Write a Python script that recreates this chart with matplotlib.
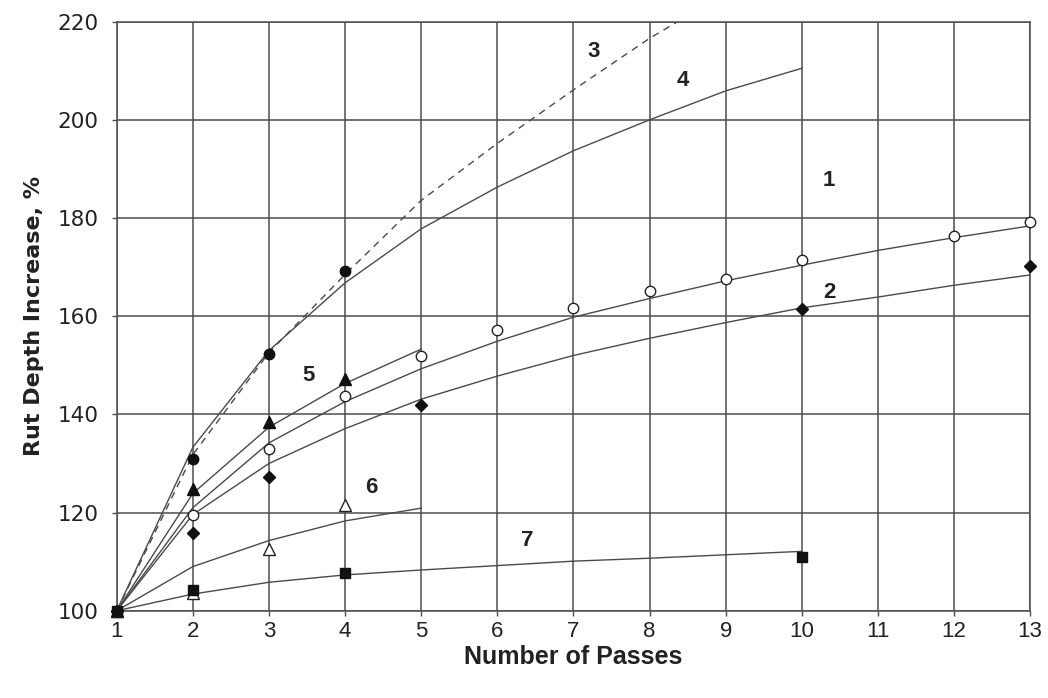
"""Rut depth increase vs number of passes (curves 1-7 with measured points)."""

import matplotlib
matplotlib.use("Agg")
import matplotlib.pyplot as plt

# ---------------------------------------------------------------------------
# data
# ---------------------------------------------------------------------------

# fitted curves (values at integer pass counts)
x1 = [1, 2, 3, 4, 5, 6, 7, 8, 9, 10, 11, 12, 13]
y1 = [100, 121.0, 134.2, 142.6, 149.3, 154.9, 159.8, 163.6, 167.2, 170.4,
      173.4, 176.0, 178.4]
x2 = [1, 2, 3, 4, 5, 6, 7, 8, 9, 10, 11, 12, 13]
y2 = [100, 119.6, 130.0, 137.1, 143.1, 147.8, 152.0, 155.5, 158.7, 161.7,
      163.9, 166.3, 168.4]
x3 = [1, 2, 3, 4, 5, 6, 7, 8, 9]
y3 = [100, 131.8, 152.6, 168.5, 183.6, 195.2, 206.1, 216.6, 225.8]
x4 = [1, 2, 3, 4, 5, 6, 7, 8, 9, 10]
y4 = [100, 133.3, 153.0, 166.8, 177.8, 186.3, 193.7, 200.0, 205.9, 210.5]
x5 = [1, 2, 3, 4, 5]
y5 = [100, 123.9, 137.4, 146.3, 153.3]
x6 = [1, 2, 3, 4, 5]
y6 = [100, 109.0, 114.3, 118.3, 120.9]
x7 = [1, 2, 3, 4, 5, 6, 7, 8, 9, 10]
y7 = [100, 103.4, 105.8, 107.3, 108.3, 109.2, 110.1, 110.7, 111.4, 112.1]

# measured points
pts_open_circle_x = [1, 2, 3, 4, 5, 6, 7, 8, 9, 10, 12, 13]
pts_open_circle_y = [100, 119.6, 133.0, 143.8, 151.9, 157.1, 161.7, 165.2,
                     167.6, 171.5, 176.4, 179.1]
pts_diamond_x = [1, 2, 3, 5, 10, 13]
pts_diamond_y = [100, 115.9, 127.2, 142.0, 161.5, 170.2]
pts_filled_circle_x = [1, 2, 3, 4]
pts_filled_circle_y = [100, 130.9, 152.2, 169.3]
pts_filled_tri_x = [1, 2, 3, 4]
pts_filled_tri_y = [100, 124.8, 138.4, 147.2]
pts_open_tri_x = [1, 2, 3, 4]
pts_open_tri_y = [100, 103.6, 112.5, 121.5]
pts_square_x = [1, 2, 4, 10]
pts_square_y = [100, 104.2, 107.7, 110.9]

curve_labels = ["1", "2", "3", "4", "5", "6", "7"]
label_x = [10.36, 10.36, 7.26, 8.43, 3.52, 4.34, 6.39]
label_y = [187.7, 164.8, 214.0, 208.0, 147.9, 125.2, 114.3]

# ---------------------------------------------------------------------------

plt.rcParams["font.family"] = ["Liberation Sans", "DejaVu Sans"]
WIDE = ["DejaVu Sans"]

fig = plt.figure(figsize=(10.48, 6.98), dpi=100)
ax = fig.add_axes([0.1114, 0.125, 0.8716, 0.844])

line_kw = dict(color="#4a4a4a", linewidth=1.0, zorder=2)
ax.plot(x1, y1, **line_kw)
ax.plot(x2, y2, **line_kw)
ax.plot(x3, y3, linestyle=(0, (5, 4)), color="#4a4a4a", linewidth=1.0,
        zorder=2)
ax.plot(x4, y4, **line_kw)
ax.plot(x5, y5, **line_kw)
ax.plot(x6, y6, **line_kw)
ax.plot(x7, y7, **line_kw)

mk = dict(linestyle="none", clip_on=False, zorder=4)
ax.plot(pts_open_circle_x, pts_open_circle_y, "o", markersize=7.5,
        markerfacecolor="white", markeredgecolor="#222222",
        markeredgewidth=1.0, **mk)
ax.plot(pts_diamond_x, pts_diamond_y, "D", markersize=6,
        color="#111111", **mk)
ax.plot(pts_filled_circle_x, pts_filled_circle_y, "o", markersize=7.5,
        color="#111111", **mk)
ax.plot(pts_filled_tri_x, pts_filled_tri_y, "^", markersize=8,
        color="#111111", **mk)
ax.plot(pts_open_tri_x, pts_open_tri_y, "^", markersize=8,
        markerfacecolor="white", markeredgecolor="#222222",
        markeredgewidth=1.0, **mk)
ax.plot(pts_square_x, pts_square_y, "s", markersize=7,
        color="#111111", **mk)

for lab, lx, ly in zip(curve_labels, label_x, label_y):
    ax.text(lx, ly, lab, ha="center", va="center", fontsize=16,
            fontweight="bold", color="#222222")

ax.set_xlim(1, 13)
ax.set_ylim(100, 220)
ax.set_xticks(range(1, 14))
ax.set_yticks(range(100, 221, 20))
ax.grid(True, color="#4d4d4d", linewidth=1.1)
ax.set_axisbelow(True)
for sp in ax.spines.values():
    sp.set_color("#4d4d4d")
    sp.set_linewidth(1.1)
ax.tick_params(axis="both", direction="out", length=3.6, width=1.0,
               color="#4d4d4d", labelcolor="#222222")
ax.tick_params(axis="y", pad=9.5)
ax.tick_params(axis="x", pad=3.5)
for t in ax.get_yticklabels():
    t.set_fontfamily(WIDE)
    t.set_fontsize(15.5)
for t in ax.get_xticklabels():
    t.set_fontsize(16)

ax.set_xlabel("Number of Passes", fontsize=18, fontweight="bold",
              color="#222222")
ax.xaxis.set_label_coords(0.5, -0.058)
ax.set_ylabel("Rut Depth Increase, %", fontsize=16, fontweight="bold",
              family=WIDE, color="#222222")
ax.yaxis.set_label_coords(-0.08, 0.5)

fig.savefig("out.png", dpi=100)
plt.close(fig)
